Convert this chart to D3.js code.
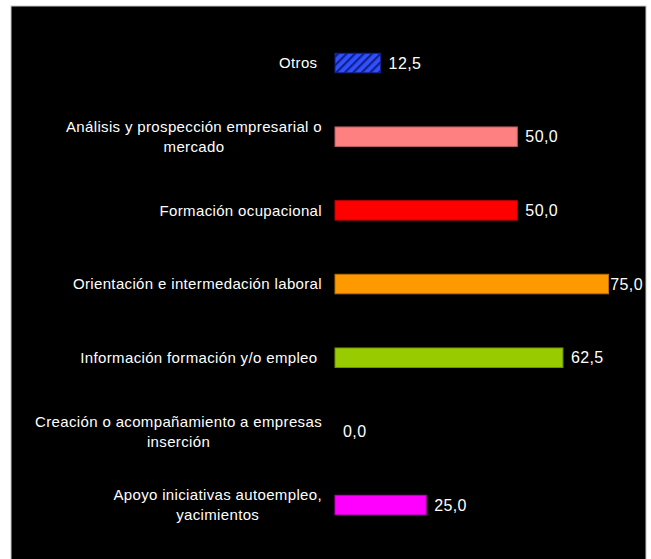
<!DOCTYPE html>
<html>
<head>
<meta charset="utf-8">
<script src="https://cdn.jsdelivr.net/npm/d3@7"></script>
<style>
  html, body { margin: 0; padding: 0; background: #fff; }
  svg { display: block; }
  text { font-family: "Liberation Sans", Arial, sans-serif; fill: #fff; white-space: pre; }
</style>
</head>
<body>
<svg id="chart" width="651" height="559"></svg>
<script>
const categories = [
  "Otros ",
  "Análisis y prospección empresarial o\nmercado",
  "Formación ocupacional",
  "Orientación e intermedación laboral",
  "Información formación y/o empleo ",
  "Creación o acompañamiento a empresas\ninserción",
  "Apoyo iniciativas autoempleo,\nyacimientos"
];
const values = [12.5, 50.0, 50.0, 75.0, 62.5, 0.0, 25.0];
const valueLabels = ["12,5", "50,0", "50,0", "75,0", "62,5", "0,0", "25,0"];
const colors = ["hatch", "#ff8080", "#ff0000", "#ff9900", "#99cc00", "#00ccff", "#ff00ff"];

const svg = d3.select("#chart");

// black panel
svg.append("rect").attr("x", 11).attr("y", 6).attr("width", 635).attr("height", 600)
  .attr("fill", "#000").attr("stroke", "#c8c8c8").attr("stroke-width", 1);

// hatch pattern
const defs = svg.append("defs");
const pat = defs.append("pattern").attr("id", "hatch").attr("patternUnits", "userSpaceOnUse")
  .attr("width", 6).attr("height", 6).attr("patternTransform", "rotate(45)");
pat.append("rect").attr("width", 6).attr("height", 6).attr("fill", "#2f50ff");
pat.append("rect").attr("width", 2.2).attr("height", 6).attr("fill", "#14208a");

const x = d3.scaleLinear().domain([0, 75]).range([335, 608.5]);
const y = d3.scaleBand().domain(categories).range([26.2, 541.9])
  .paddingInner(0.735).paddingOuter(0.3675);

const data = categories.map((c, i) => ({ c, v: values[i], lab: valueLabels[i], col: colors[i] }));

// bars
svg.append("g").selectAll("rect").data(data.filter(d => d.v > 0)).join("rect")
  .attr("x", x(0))
  .attr("y", d => y(d.c))
  .attr("width", d => x(d.v) - x(0))
  .attr("height", y.bandwidth())
  .attr("fill", d => d.col === "hatch" ? "url(#hatch)" : d.col)
  .attr("stroke", d => d.col === "hatch" ? "#14208a" : d3.color(d.col).darker(0.9))
  .attr("stroke-width", 1);

// value labels
const vl = svg.append("g").selectAll("text").data(data).join("text")
  .attr("y", d => y(d.c) + y.bandwidth() / 2)
  .attr("dy", "0.36em")
  .attr("font-size", 16)
  .attr("letter-spacing", "0.4px")
  .text(d => d.lab);
vl.each(function(d) {
  const w = this.getComputedTextLength();
  d3.select(this).attr("x", Math.min(x(d.v) + 8, 643 - w));
});

// category labels
const right = 322, lh = 20;
const cg = svg.append("g");
data.forEach(d => {
  const lines = d.c.split("\n");
  const t = cg.append("text").attr("font-size", 15).attr("letter-spacing", "0.35px")
    .attr("text-anchor", "middle");
  const cy = y(d.c) + y.bandwidth() / 2;
  const spans = lines.map((ln, i) => t.append("tspan")
    .attr("y", cy + (i - (lines.length - 1) / 2) * lh)
    .attr("dy", "0.36em").text(ln));
  const maxW = d3.max(spans, s => s.node().getComputedTextLength());
  spans.forEach(s => s.attr("x", right - maxW / 2));
});
</script>
</body>
</html>
